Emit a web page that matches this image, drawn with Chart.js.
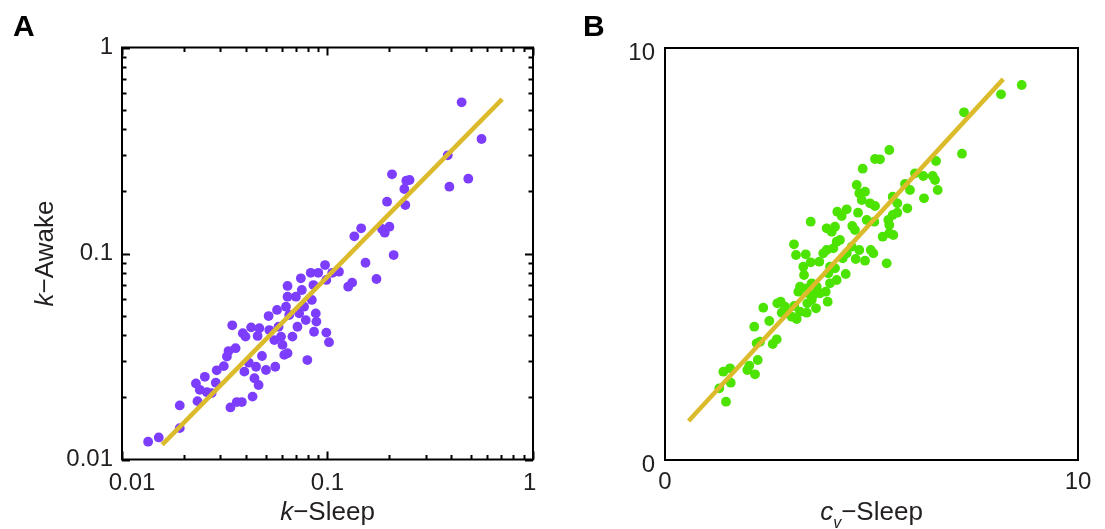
<!DOCTYPE html>
<html>
<head>
<meta charset="utf-8">
<script src="https://cdn.jsdelivr.net/npm/chart.js@4"></script>
<style>
  html, body { margin: 0; padding: 0; background: #fff; overflow: hidden; }
  #wrap { position: relative; width: 1105px; height: 529px; }
  canvas { position: absolute; top: 0; }
</style>
</head>
<body>
<div id="wrap">
  <canvas id="cA" width="552" height="529" style="left:0;width:552px;height:529px"></canvas>
  <canvas id="cB" width="553" height="529" style="left:552px;width:553px;height:529px"></canvas>
</div>
<script>
// Panel A: rate constant k, sleep vs awake (log-log)
const kSleep = [0.0134,0.0151,0.0191,0.0191,0.0233,0.0229,0.0239,0.0253,0.0259,0.0273,0.0286,0.0289,0.0313,0.0324,0.0330,0.0357,0.0344,0.0337,0.0362,0.0383,0.0387,0.0399,0.0425,0.0432,0.0394,0.0414,0.0441,0.0449,0.0462,0.0466,0.0457,0.0480,0.0502,0.0517,0.0521,0.0551,0.0557,0.0568,0.0578,0.0594,0.0604,0.0616,0.0628,0.0639,0.0639,0.0651,0.0675,0.0639,0.0702,0.0714,0.0728,0.0742,0.0750,0.0769,0.0784,0.0798,0.0829,0.0839,0.0854,0.0860,0.0877,0.0883,0.0902,0.0973,0.0987,0.0987,0.1017,0.1055,0.1137,0.1261,0.1318,0.1351,0.1458,0.1842,0.1899,0.2001,0.2099,0.1531,0.1731,0.1949,0.2060,0.2365,0.2418,0.2508,0.2392,0.3846,0.3919,0.4843,0.4495,0.5618];
const kAwake = [0.0122,0.0128,0.0142,0.0183,0.0192,0.0234,0.0218,0.0252,0.0212,0.0210,0.0236,0.0271,0.0284,0.0316,0.0336,0.0347,0.0448,0.0179,0.0190,0.0190,0.0410,0.0395,0.0438,0.0202,0.0267,0.0295,0.0248,0.0282,0.0230,0.0434,0.0398,0.0318,0.0272,0.0497,0.0425,0.0380,0.0282,0.0532,0.0441,0.0395,0.0360,0.0322,0.0552,0.0696,0.0617,0.0503,0.0395,0.0328,0.0617,0.0441,0.0512,0.0758,0.0665,0.0552,0.0475,0.0304,0.0806,0.0595,0.0703,0.0417,0.0512,0.0467,0.0806,0.0879,0.0744,0.0413,0.0371,0.0806,0.0816,0.0690,0.0722,0.1212,0.1325,0.1315,0.1262,0.1349,0.0983,0.0902,0.0752,0.1785,0.2424,0.2056,0.2256,0.2274,0.1719,0.2997,0.2110,0.2307,0.5420,0.3596];
const kFitSleep = [0.0157, 0.708];
const kFitAwake = [0.0118, 0.562];
const kTickValues = [0.01, 0.1, 1];
const kTickLabels = ['   0.01', '0.1', '1 '];
const kTickLabelsY = ['0.01', '0.1', '1'];

// Panel B: coefficient of variation c_v, sleep vs awake (linear)
const cvSleep = [1.315,1.477,1.412,1.574,1.591,1.993,2.041,2.179,2.245,2.162,2.220,2.300,2.608,2.705,2.525,2.380,2.719,2.801,2.930,3.131,3.189,3.269,3.431,3.446,3.552,3.656,3.591,3.753,3.939,3.891,3.431,3.552,3.673,3.995,4.157,3.954,4.375,3.123,3.172,3.407,3.349,3.366,3.528,3.736,3.833,3.915,4.075,4.157,4.237,4.116,3.995,4.303,4.400,4.521,4.617,4.705,4.843,4.981,5.044,5.368,3.528,3.915,4.036,4.116,4.172,4.278,4.400,4.535,4.600,4.673,4.884,5.068,4.964,5.085,4.642,4.705,4.763,4.843,4.787,5.085,5.206,5.431,5.271,5.431,5.528,5.431,5.407,5.513,5.625,5.625,5.867,5.513,5.811,5.932,6.053,6.254,6.271,6.482,6.538,6.603,6.562,7.191,2.826,2.906,3.068,3.228,3.470,3.269,7.240,8.136,8.637];
const cvAwake = [1.740,1.415,2.143,2.226,1.876,2.184,2.289,2.080,2.427,3.235,2.833,2.871,2.816,2.930,3.374,3.697,3.803,3.842,3.561,3.738,3.422,3.600,3.575,3.803,3.883,3.682,4.005,4.046,3.842,4.085,4.167,4.289,4.206,4.289,4.369,4.532,4.515,5.235,4.976,4.993,4.692,4.490,4.799,4.813,5.017,5.097,5.138,5.299,5.340,4.653,4.692,4.896,5.017,5.177,4.879,5.097,4.837,5.097,5.017,4.774,5.784,5.624,5.541,5.663,6.027,5.922,6.085,5.680,5.583,6.002,5.825,5.784,6.231,6.165,6.675,6.473,6.311,6.512,7.070,7.306,7.298,7.524,5.420,5.502,5.461,5.704,5.825,5.947,6.002,6.231,6.109,6.391,6.699,6.553,6.959,6.893,6.352,6.893,6.796,6.553,7.257,7.434,3.575,3.721,3.478,4.085,4.046,4.206,8.439,8.876,9.102];
const cvFitSleep = [0.571, 8.19];
const cvFitAwake = [0.949, 9.245];
const cvTickValues = [0, 10];
const cvTickLabels = ['0', '10'];

const INK = '#231f20';
const PURPLE = '#7d3dfd';
const GREEN = '#4ce300';
const GOLD = '#dbbb2b';
const FONT = "'Liberation Sans', Arial, sans-serif";

const pairs = (xs, ys) => xs.map((v, i) => ({ x: v, y: ys[i] }));

// Rich text: mixes italic symbols, subscripts and plain text on one baseline
function drawRich(ctx, parts, size, cx, baseline) {
  const fontFor = p => `${p.italic ? 'italic ' : ''}${p.sub ? Math.round(size * 0.62) : size}px ${FONT}`;
  let w = 0;
  parts.forEach(p => { ctx.font = fontFor(p); p.w = ctx.measureText(p.t).width; w += p.w; });
  let x = cx - w / 2;
  parts.forEach(p => {
    ctx.font = fontFor(p);
    ctx.fillText(p.t, x, baseline + (p.sub ? size * 0.3 : 0));
    x += p.w;
  });
}

function panelPlugin(cfg) {
  return {
    id: 'panel' + cfg.letter,
    afterDatasetsDraw(chart) {
      const { ctx, chartArea: a, scales: { x, y } } = chart;
      ctx.save();
      ctx.strokeStyle = '#000';
      ctx.lineWidth = 2;
      if (cfg.logTicks) {
        const vals = [];
        for (let e = -2; e < 0; e++) for (let m = 1; m <= 9; m++) vals.push({ v: m * Math.pow(10, e), major: m === 1 });
        vals.push({ v: 1, major: true });
        ctx.beginPath();
        vals.forEach(t => {
          const len = t.major ? 8 : 4.5;
          const px = Math.round(x.getPixelForValue(t.v)) + 0.5;
          ctx.moveTo(px, a.bottom); ctx.lineTo(px, a.bottom - len);
          ctx.moveTo(px, a.top); ctx.lineTo(px, a.top + len);
          const py = Math.round(y.getPixelForValue(t.v)) + 0.5;
          ctx.moveTo(a.left, py); ctx.lineTo(a.left + len, py);
          ctx.moveTo(a.right, py); ctx.lineTo(a.right - len, py);
        });
        ctx.stroke();
      }
      ctx.strokeRect(a.left, a.top, a.right - a.left, a.bottom - a.top);
      ctx.restore();
    },
    afterDraw(chart) {
      const { ctx, chartArea: a } = chart;
      ctx.save();
      ctx.textAlign = 'left';
      ctx.textBaseline = 'alphabetic';
      // panel letter
      ctx.fillStyle = '#000';
      ctx.font = `bold 30px ${FONT}`;
      ctx.fillText(cfg.letter, cfg.letterX, 36);
      ctx.fillStyle = INK;
      // x title
      drawRich(ctx, cfg.xTitle, 26, (a.left + a.right) / 2, 520);
      // y title, rotated
      ctx.translate(cfg.yTitleX, (a.top + a.bottom) / 2 + (cfg.yTitleShift || 0));
      ctx.rotate(-Math.PI / 2);
      drawRich(ctx, cfg.yTitle, 26, 0, 0);
      ctx.restore();
    }
  };
}

function makeChart(id, c) {
  return new Chart(document.getElementById(id), {
    type: 'scatter',
    data: {
      datasets: [
        {
          data: pairs(c.fitX, c.fitY), showLine: true, borderColor: GOLD, borderWidth: 4.5,
          pointRadius: 0, pointHoverRadius: 0, borderCapStyle: 'butt'
        },
        {
          data: pairs(c.xs, c.ys), backgroundColor: c.color, borderWidth: 0,
          pointRadius: 4.9, pointHoverRadius: 4.9
        }
      ]
    },
    options: {
      responsive: false, animation: false, events: [],
      layout: { padding: { left: 0, top: c.top, right: c.padRight, bottom: 0 } },
      plugins: { legend: { display: false }, tooltip: { enabled: false } },
      scales: {
        x: {
          type: c.type, min: c.min, max: c.max,
          grid: { display: false, drawTicks: false }, border: { display: false },
          afterBuildTicks: s => { s.ticks = c.ticks.map(v => ({ value: v })); },
          afterFit: s => { s.height = c.xAxisH; },
          ticks: {
            autoSkip: false, maxRotation: 0, padding: c.xPad, color: INK,
            font: { family: FONT, size: 24 },
            callback: v => c.xLabels[c.ticks.indexOf(v)] ?? ''
          }
        },
        y: {
          type: c.type, min: c.min, max: c.max,
          grid: { display: false, drawTicks: false }, border: { display: false },
          afterBuildTicks: s => { s.ticks = c.ticks.map(v => ({ value: v })); },
          afterFit: s => { s.width = c.left; },
          ticks: {
            autoSkip: false, padding: c.yPad, color: INK, labelOffset: c.yLabelOffset,
            font: { family: FONT, size: 24 },
            callback: v => c.yLabels[c.ticks.indexOf(v)] ?? ''
          }
        }
      }
    },
    plugins: [panelPlugin(c.panel)]
  });
}

makeChart('cA', {
  xs: kSleep, ys: kAwake, fitX: kFitSleep, fitY: kFitAwake, color: PURPLE,
  type: 'logarithmic', min: 0.01, max: 1, ticks: kTickValues,
  xLabels: kTickLabels, yLabels: kTickLabelsY,
  top: 47.5, padRight: 17, left: 122, xAxisH: 69.5, xPad: 9, yPad: 9, yLabelOffset: 0,
  panel: {
    letter: 'A', letterX: 13, logTicks: true, yTitleX: 53,
    xTitle: [{ t: 'k', italic: true }, { t: '\u2212Sleep' }],
    yTitle: [{ t: 'k', italic: true }, { t: '\u2212Awake' }]
  }
});

makeChart('cB', {
  xs: cvSleep, ys: cvAwake, fitX: cvFitSleep, fitY: cvFitAwake, color: GREEN,
  type: 'linear', min: 0, max: 10, ticks: cvTickValues,
  xLabels: cvTickLabels, yLabels: cvTickLabels,
  top: 48, padRight: 27, left: 113, xAxisH: 69, xPad: 8, yPad: 10, yLabelOffset: 5,
  panel: {
    letter: 'B', letterX: 31, logTicks: false, yTitleX: 627, yTitleShift: 3,
    xTitle: [{ t: 'c', italic: true }, { t: 'v', italic: true, sub: true }, { t: '\u2212Sleep' }],
    yTitle: [{ t: 'c', italic: true }, { t: 'v', italic: true, sub: true }, { t: '\u2212Awake' }]
  }
});
</script>
</body>
</html>
